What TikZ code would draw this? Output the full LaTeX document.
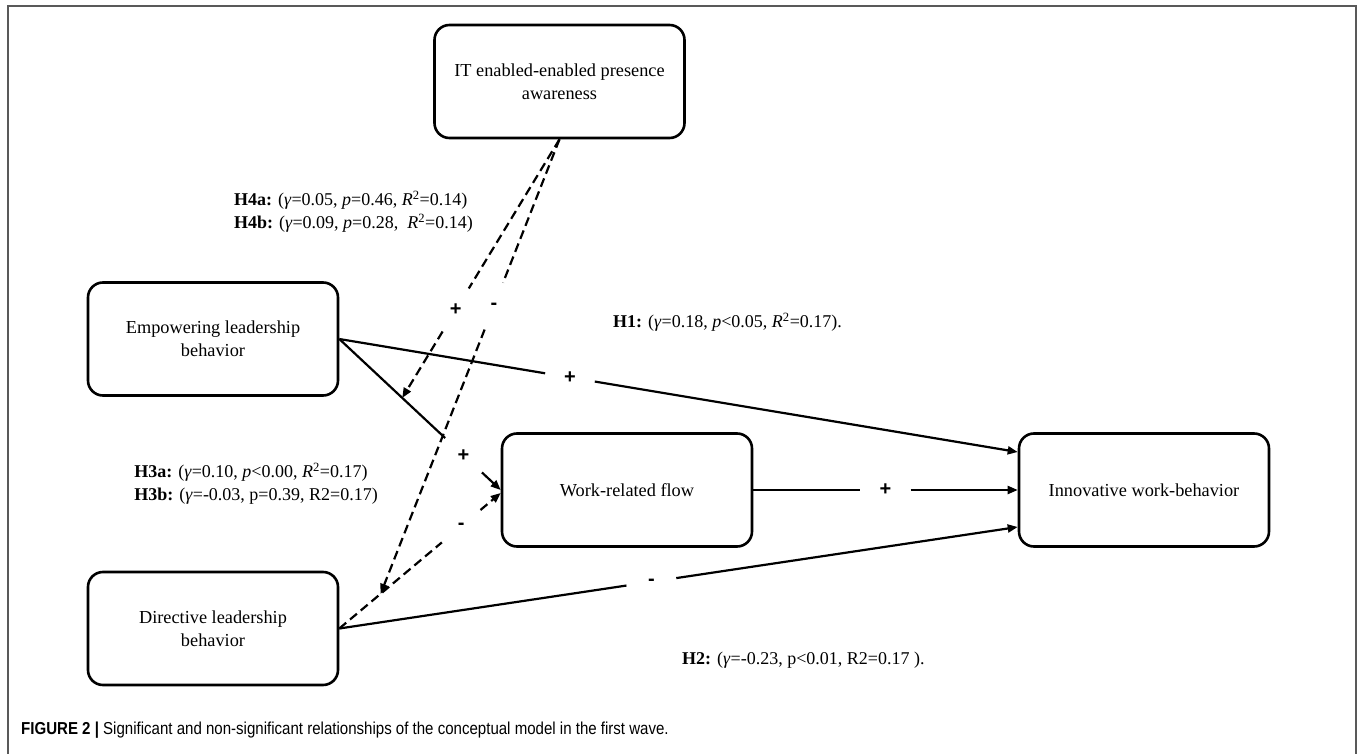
\documentclass[tikz,border=0pt]{standalone}
\usepackage{fontspec}
\setmainfont{Liberation Serif}
\newfontfamily\capfont[FakeStretch=0.87]{Liberation Sans}
\newfontfamily\signfont{Liberation Sans}
\usetikzlibrary{arrows.meta,calc}
\begin{document}
\begin{tikzpicture}[x=1pt,y=-1pt,
  box/.style={draw, line width=2.6pt, rounded corners=15pt, minimum width=250pt, minimum height=113pt, align=center, font=\fontsize{18.3}{23}\selectfont, inner sep=0pt},
  conn/.style={line width=2.2pt},
  arr/.style={conn, -{Triangle[length=10pt,width=8pt]}},
  dsh/.style={dash pattern=on 9pt off 5pt},
  gap/.style={circle, minimum size=50pt, inner sep=0pt, font=\signfont\bfseries\fontsize{20}{20}\selectfont},
  lbl/.style={font=\fontsize{18}{23}\selectfont, align=left, inner sep=0pt}]
\useasboundingbox (0,0) rectangle (1357,754);
\draw[gray!70!black, line width=1.5pt] (8,770) -- (8,6) -- (1356,6) -- (1356,770);

\node[box] (it) at (559.5,81.5) {IT enabled-enabled presence\\awareness};
\node[box] (emp) at (213,339) {Empowering leadership\\behavior};
\node[box] (dir) at (213,628.5) {Directive leadership\\behavior};
\node[box] (wrf) at (627,490) {Work-related flow};
\node[box] (inn) at (1144,490) {Innovative work-behavior};

\coordinate (i1) at ([yshift=38pt]inn.west);
\coordinate (i3) at ([yshift=-37pt]inn.west);
\coordinate (w4) at ([yshift=-3pt]wrf.west);

% Empowering -> Innovative
\path (emp.east) -- (i1) node[gap, pos=0.34] (g1) {+};
\draw[conn] (emp.east) -- (g1);
\draw[arr] (g1) -- (i1);
% Empowering -> Flow
\path (emp.east) -- (wrf.west) node[gap, pos=0.77] (g2) {+};
\draw[conn] (emp.east) -- (g2);
\draw[arr] (g2) -- (wrf.west);
% Directive -> Innovative
\path (dir.east) -- (i3) node[gap, pos=0.46] (g3) {-};
\draw[conn] (dir.east) -- (g3);
\draw[arr] (g3) -- (i3);
% Directive -> Flow (dashed)
\path (dir.east) -- (w4) node[gap, pos=0.755] (g4) {-};
\draw[conn,dsh] (dir.east) -- (g4);
\draw[arr,dsh] (g4) -- (w4);
% Flow -> Innovative
\path (wrf.east) -- (inn.west) node[gap, pos=0.5] (g5) {+};
\draw[conn] (wrf.east) -- (g5);
\draw[arr] (g5) -- (inn.west);
% IT moderation (dashed)
\coordinate (m1) at ($(emp.east)!0.39!(wrf.west)$);
\coordinate (m2) at ($(dir.east)!0.256!(w4)$);
\path (it.south) -- (m1) node[gap, pos=0.66] (g6) {+};
\path (it.south) -- (m2) node[gap, pos=0.367] (g7) {-};
\draw[conn,dsh] (it.south) -- (g6);
\draw[arr,dsh] (g6) -- (m1);
\draw[conn,dsh] (it.south) -- (g7);
\draw[arr,dsh] (g7) -- (m2);

% labels
\node[lbl, anchor=east] (h4) at (473,212) {\textbf{H4a:} (\textit{γ}=0.05, \textit{p}=0.46, \textit{R}\textsuperscript{2}=0.14)\\\textbf{H4b:} (\textit{γ}=0.09, \textit{p}=0.28,\ \ \textit{R}\textsuperscript{2}=0.14)};
\node[lbl, anchor=west] (h1) at (613,322) {\textbf{H1:} (\textit{γ}=0.18, \textit{p}<0.05, \textit{R}\textsuperscript{2}=0.17).};
\node[lbl, anchor=east] (h3) at (378,484) {\textbf{H3a:} (\textit{γ}=0.10, \textit{p}<0.00, \textit{R}\textsuperscript{2}=0.17)\\\textbf{H3b:} (\textit{γ}=-0.03, p=0.39, R2=0.17)};
\node[lbl, anchor=west] (h2) at (682,660) {\textbf{H2:} (\textit{γ}=-0.23, p<0.01, R2=0.17 ).};

\node[anchor=base west, inner sep=0pt, font=\capfont\fontsize{17.3}{20}\selectfont] (cap) at (21,734) {\textbf{FIGURE 2 |} Significant and non-significant relationships of the conceptual model in the first wave.};
\end{tikzpicture}
\end{document}
